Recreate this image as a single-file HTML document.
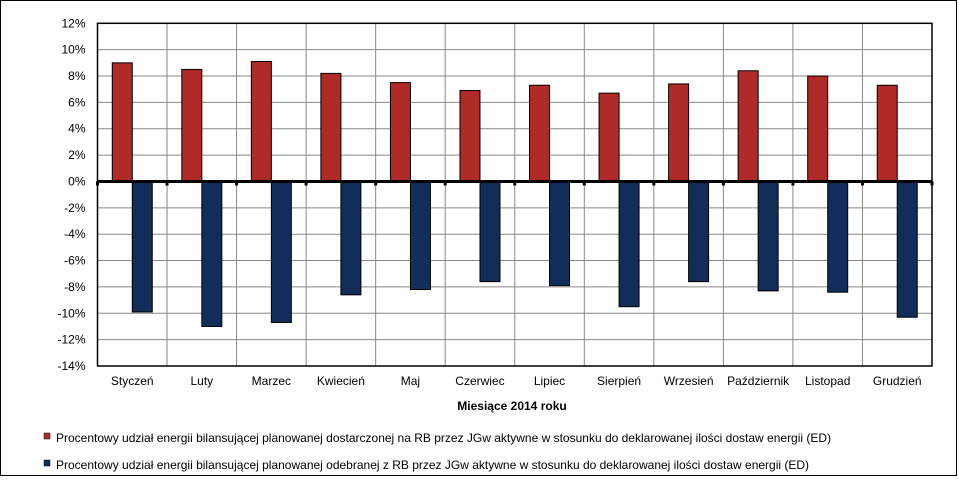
<!DOCTYPE html>
<html><head><meta charset="utf-8"><style>
body{margin:0;background:#fff;font-family:"Liberation Sans",Arial,sans-serif;}
svg text{font-family:"Liberation Sans",Arial,sans-serif;}
</style></head><body>
<svg id="chart" width="959" height="477" xmlns="http://www.w3.org/2000/svg">
<rect x="0.5" y="0.5" width="956" height="475" fill="#fff" stroke="#000"/>
<g id="grid"></g><g id="bars"></g><g id="axes"></g>
<text x="512" y="410" font-size="12" font-weight="bold" text-anchor="middle">Miesiące 2014 roku</text>
<g>
<rect x="44" y="433" width="6" height="6" fill="#b02a28" stroke="#000" stroke-width="0.5"/>
<text x="56" y="442" font-size="12">Procentowy udział energii bilansującej planowanej dostarczonej na RB przez JGw aktywne w stosunku do deklarowanej ilości dostaw energii (ED)</text>
<rect x="44" y="460" width="6" height="6" fill="#132d5a" stroke="#000" stroke-width="0.5"/>
<text x="56" y="469" font-size="12">Procentowy udział energii bilansującej planowanej odebranej z RB przez JGw aktywne w stosunku do deklarowanej ilości dostaw energii (ED)</text>
</g>
</svg>
<script>
const categories=["Styczeń","Luty","Marzec","Kwiecień","Maj","Czerwiec","Lipiec","Sierpień","Wrzesień","Październik","Listopad","Grudzień"];
const delivered=[9.0,8.5,9.1,8.2,7.5,6.9,7.3,6.7,7.4,8.4,8.0,7.3];
const received=[-9.9,-11.0,-10.7,-8.6,-8.2,-7.6,-7.9,-9.5,-7.6,-8.3,-8.4,-10.3];
const yTicks=[12,10,8,6,4,2,0,-2,-4,-6,-8,-10,-12,-14];
const NS="http://www.w3.org/2000/svg";
const L=97.5,R=932,T=23.3,B=366,yMax=12,yMin=-14;
const y=v=>T+(yMax-v)/(yMax-yMin)*(B-T);
const cw=(R-L)/categories.length;
const x=i=>L+i*cw;
function mk(tag,attrs,parent){const e=document.createElementNS(NS,tag);for(const k in attrs)e.setAttribute(k,attrs[k]);parent.appendChild(e);return e;}
const grid=document.getElementById('grid'),bars=document.getElementById('bars'),axes=document.getElementById('axes');
yTicks.forEach(t=>{
  const l=mk('line',{x1:L,x2:R,y1:y(t),y2:y(t),stroke:'#888','stroke-width':1},grid);
  
  
  const tx=mk('text',{x:L-12,y:y(t)+4,'font-size':12,'text-anchor':'end'},axes);
  tx.textContent=t+'%';
  
  
});
for(let i=1;i<categories.length;i++){
  const l=mk('line',{x1:x(i),x2:x(i),y1:T,y2:B,stroke:'#888','stroke-width':1},grid);
  
  
}
const bw=20;
categories.forEach((c,i)=>{
  const cx=x(i)+cw/2;
  const r=mk('rect',{x:cx-bw,y:y(delivered[i]),width:bw,height:y(0)-y(delivered[i]),fill:'#b02a28',stroke:'#000','stroke-width':1},bars);
  
  
  const b=mk('rect',{x:cx,y:y(0),width:bw,height:y(received[i])-y(0),fill:'#132d5a',stroke:'#000','stroke-width':1},bars);
  
  
  const t=mk('text',{x:cx,y:B+19,'font-size':12,'text-anchor':'middle'},axes);
  t.textContent=c;
  
  
});
const frame=mk('rect',{x:L,y:T,width:R-L,height:B-T,fill:'none',stroke:'#000','stroke-width':1.5},axes);


const zl=mk('line',{x1:L,x2:R,y1:y(0),y2:y(0),stroke:'#000','stroke-width':3},axes);


for(let i=0;i<=categories.length;i++){
  const tk=mk('line',{x1:x(i),x2:x(i),y1:y(0),y2:y(0)+4,stroke:'#000','stroke-width':3},axes);
  
  
}
</script>
</body></html>
